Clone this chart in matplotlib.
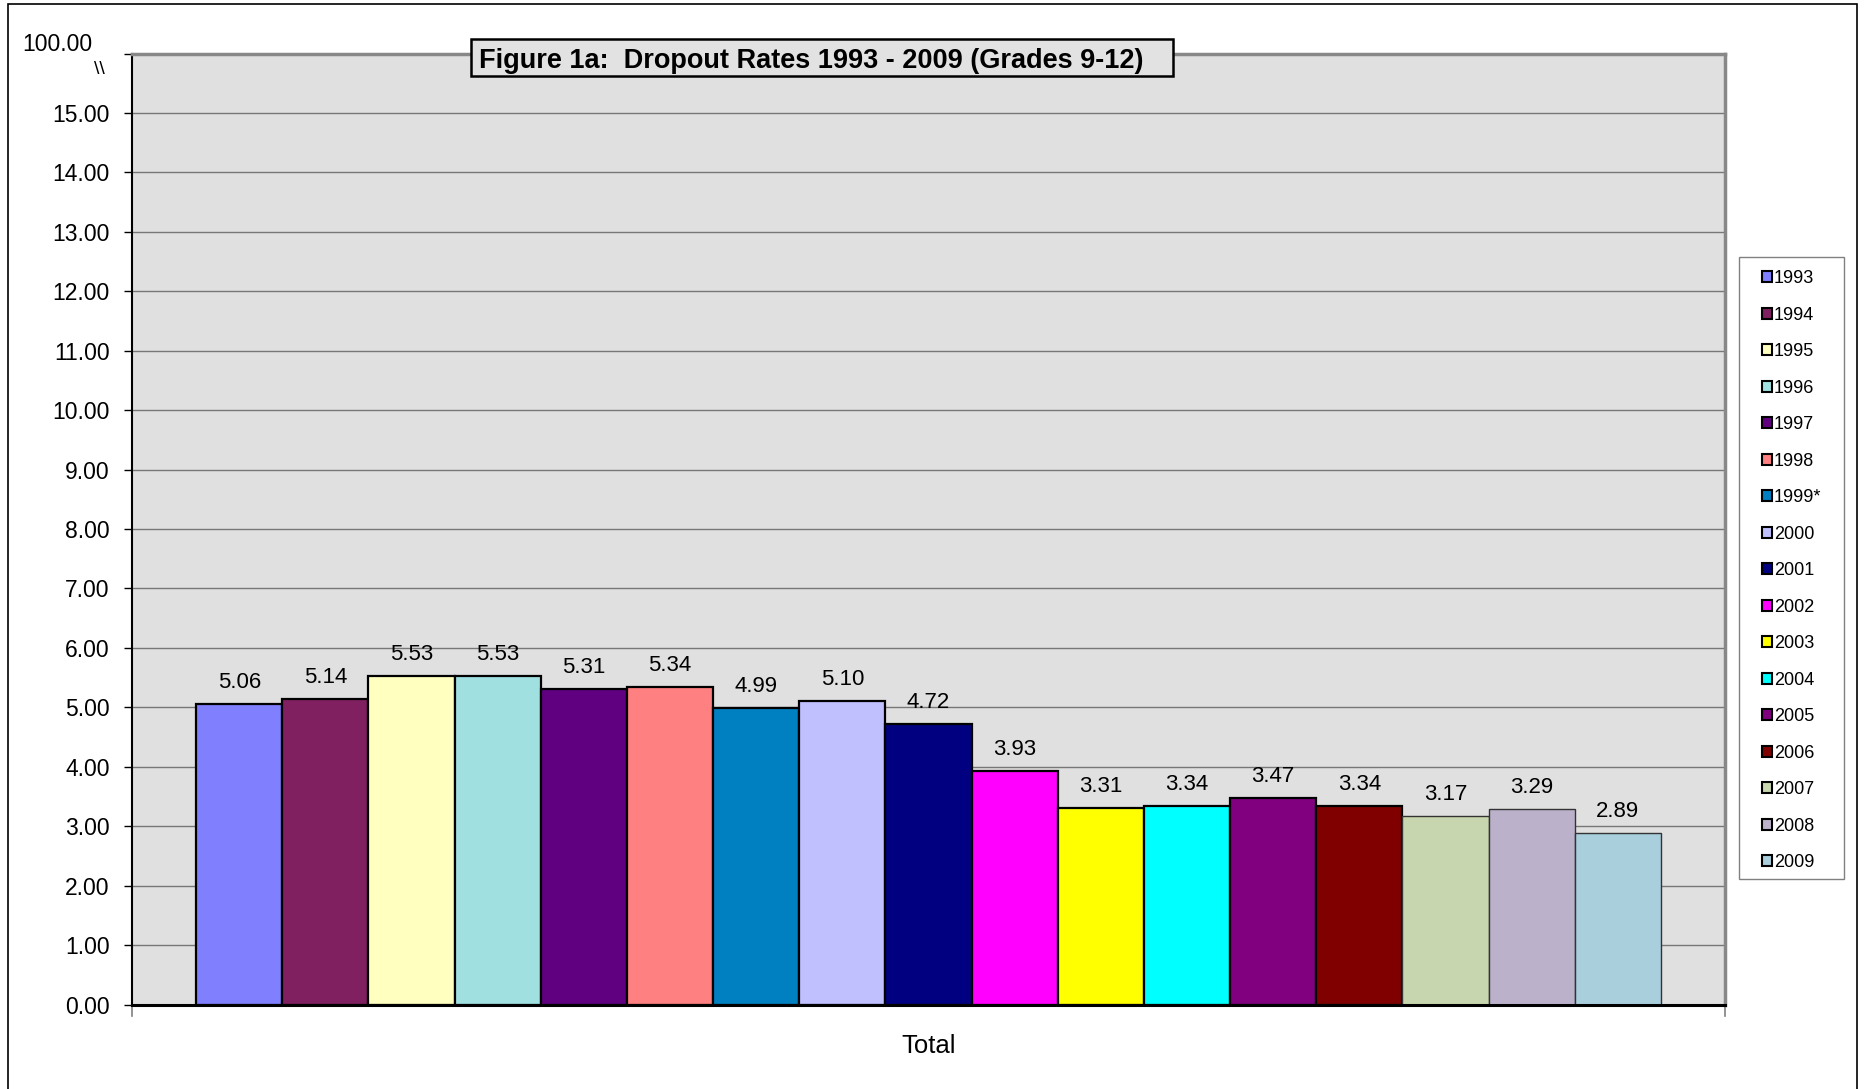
import matplotlib
matplotlib.use("Agg")
import matplotlib.pyplot as plt
from matplotlib.patches import Rectangle
import numpy as np

plt.rcParams['font.family'] = ['Liberation Sans', 'DejaVu Sans']

# data
years = ['1993', '1994', '1995', '1996', '1997', '1998', '1999*', '2000', '2001',
         '2002', '2003', '2004', '2005', '2006', '2007', '2008', '2009']
rates = [5.06, 5.14, 5.53, 5.53, 5.31, 5.34, 4.99, 5.10, 4.72,
         3.93, 3.31, 3.34, 3.47, 3.34, 3.17, 3.29, 2.89]
colors = ['#8080FF', '#802060', '#FFFFC0', '#A0E0E0', '#600080', '#FF8080',
          '#0080C0', '#C0C0FF', '#000080', '#FF00FF', '#FFFF00', '#00FFFF',
          '#800080', '#800000', '#C7D6AE', '#BBB1CB', '#A9CEDC']
y_ticks = list(range(16))

W, H = 1864, 1089
fig = plt.figure(figsize=(W / 100, H / 100), dpi=100)
ax = fig.add_axes([132 / W, 1 - 1004.5 / H, (1725 - 132) / W, (1004.5 - 53.5) / H])
ax.set_facecolor('#E0E0E0')

x = np.arange(len(years))
bars = ax.bar(x, rates, width=1.0, color=colors, edgecolor='black', linewidth=1.6, zorder=3)
for b in bars[-3:]:
    b.set_edgecolor('#333333')
    b.set_linewidth(1.0)

for xi, v in zip(x, rates):
    ax.annotate("%.2f" % v, (xi, v), xytext=(0, 11.5), textcoords='offset points',
                ha='center', va='baseline', fontsize=16, zorder=4)

ax.set_xlim(-0.5 - 0.745, len(years) - 0.5 + 0.745)
ax.set_ylim(0, 16)
ax.set_yticks(y_ticks + [16])
ax.set_yticklabels(["%.2f" % t for t in y_ticks] + [''], fontsize=16.5)
ax.yaxis.grid(True, color='#777777', linewidth=1.0, zorder=1)
ax.tick_params(axis='y', direction='out', length=6, width=1, pad=10)
ax.set_xticks([])

# axis break label
ax.text(-0.025, 16.15, '100.00', transform=ax.get_yaxis_transform(), ha='right', va='center', fontsize=16.5)
ax.text(-0.017, 15.73, '\\\\', transform=ax.get_yaxis_transform(), ha='right', va='center', fontsize=14)

# x end ticks
for xe in ax.get_xlim():
    ax.plot([xe, xe], [0, -0.2], color='#808080', lw=1.2, clip_on=False)

ax.spines['left'].set_color('black')
ax.spines['left'].set_linewidth(1.5)
ax.spines['bottom'].set_color('black')
ax.spines['bottom'].set_linewidth(2.2)
ax.spines['bottom'].set_zorder(5)
for s in ['top', 'right']:
    ax.spines[s].set_color('#888888')
    ax.spines[s].set_linewidth(2.5)

ax.set_xlabel('Total', fontsize=18.5, labelpad=21)

# legend box and entries
fig.patches.append(Rectangle((1739 / W, 1 - 879 / H), (1844 - 1739) / W, (879 - 257) / H,
                             transform=fig.transFigure, facecolor='white',
                             edgecolor='#808080', linewidth=1.0))
handles = [Rectangle((0, 0), 1, 1, facecolor=c, edgecolor='black', linewidth=1.5) for c in colors]
leg = fig.legend(handles, years, loc='upper left', bbox_to_anchor=(1762 / W, 1 - 270 / H),
                 fontsize=13, frameon=False,
                 handlelength=0.55, handleheight=0.55, handletextpad=0.1,
                 labelspacing=1.08, borderpad=0, borderaxespad=0)

# title box
fig.patches.append(Rectangle((471 / W, 1 - 76 / H), (1173 - 471) / W, 37 / H,
                             transform=fig.transFigure, facecolor='#E2E2E2',
                             edgecolor='black', linewidth=1.8, zorder=2))
fig.text(479 / W, 1 - 61 / H, 'Figure 1a:  Dropout Rates 1993 - 2009 (Grades 9-12)',
         ha='left', va='center', fontsize=19.5, fontweight='bold')

# outer chart frame
fig.patches.append(Rectangle((8 / W, -0.1), (1857 - 8) / W, 1.1 - 4 / H,
                             transform=fig.transFigure, fill=False,
                             edgecolor='black', linewidth=1.2))

fig.savefig('out.png', dpi=100)
